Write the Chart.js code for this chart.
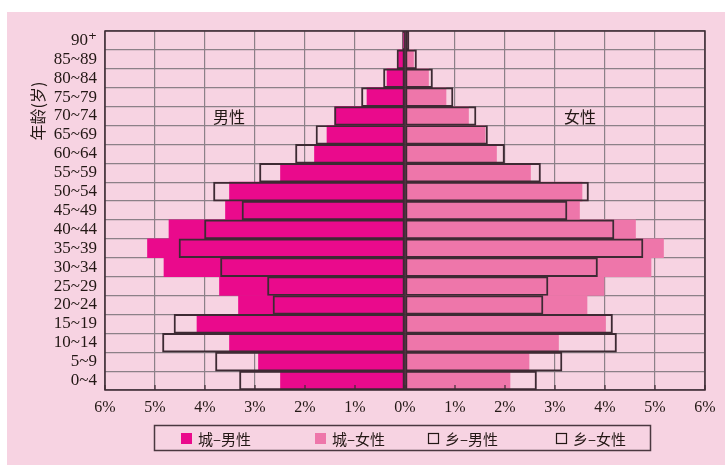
<!DOCTYPE html>
<html>
<head>
<meta charset="utf-8">
<script src="https://cdn.jsdelivr.net/npm/chart.js@4.4.0/dist/chart.umd.min.js"></script>
<style>
  html, body { margin: 0; padding: 0; background: #fff; }
  #chart { position: absolute; left: 0; top: 0; }
</style>
</head>
<body>
<canvas id="chart" width="725" height="465"></canvas>
<script>
// age groups, top to bottom
const ageGroups = ['90⁺', '85~89', '80~84', '75~79', '70~74', '65~69', '60~64', '55~59', '50~54',
  '45~49', '40~44', '35~39', '30~34', '25~29', '20~24', '15~19', '10~14', '5~9', '0~4'];

// percent of population
const urbanMale   = [0.03, 0.13, 0.36, 0.76, 1.40, 1.56, 1.81, 2.49, 3.51, 3.59, 4.72, 5.15, 4.82, 3.71, 3.33, 4.16, 3.51, 2.93, 2.49];
const urbanFemale = [0.06, 0.17, 0.47, 0.82, 1.27, 1.60, 1.83, 2.51, 3.54, 3.49, 4.61, 5.17, 4.92, 3.98, 3.64, 4.01, 3.07, 2.48, 2.10];
const ruralMale   = [0.05, 0.16, 0.43, 0.87, 1.41, 1.78, 2.19, 2.91, 3.83, 3.26, 4.01, 4.52, 3.69, 2.75, 2.64, 4.62, 4.85, 3.79, 3.31];
const ruralFemale = [0.08, 0.23, 0.55, 0.96, 1.42, 1.65, 1.99, 2.71, 3.67, 3.24, 4.18, 4.76, 3.85, 2.86, 2.76, 4.15, 4.23, 3.14, 2.63];

const xTicks = [-6, -5, -4, -3, -2, -1, 0, 1, 2, 3, 4, 5, 6];
const legendLabels = ['城–男性', '城–女性', '乡–男性', '乡–女性'];

const bgPink = '#f7d3e2';
const magenta = '#ea0a8c';
const pink = '#ee76aa';
const dark = '#3d2a33';
const gridColor = '#8c8088';
const cjkFont = '"Noto Sans CJK SC", sans-serif';
const serifFont = '"Liberation Serif", "DejaVu Serif", serif';

const decorations = {
    id: 'decorations',
    beforeDraw(chart) {
        const ctx = chart.ctx;
        ctx.save();
        ctx.fillStyle = '#fff';
        ctx.fillRect(0, 0, chart.width, chart.height);
        ctx.fillStyle = bgPink;
        ctx.fillRect(7, 12, chart.width - 7, chart.height - 12);
        ctx.restore();
    },
    afterDatasetsDraw(chart) {
        const ctx = chart.ctx;
        const area = chart.chartArea;
        const x0 = chart.scales.x.getPixelForValue(0);
        ctx.save();
        ctx.strokeStyle = dark;
        ctx.lineWidth = 1.5;
        ctx.beginPath();
        ctx.moveTo(x0, area.top);
        ctx.lineTo(x0, area.bottom);
        ctx.stroke();
        ctx.strokeRect(area.left, area.top, area.right - area.left, area.bottom - area.top);
        // small tick marks on the bottom edge
        ctx.lineWidth = 1.2;
        xTicks.forEach(v => {
            const x = chart.scales.x.getPixelForValue(v);
            ctx.beginPath();
            ctx.moveTo(x, area.bottom);
            ctx.lineTo(x, area.bottom - 5);
            ctx.stroke();
        });

        // side labels
        ctx.fillStyle = '#231815';
        ctx.font = '16px ' + cjkFont;
        ctx.textAlign = 'center';
        ctx.textBaseline = 'middle';
        ctx.fillText('男性', 229, 117);
        ctx.fillText('女性', 580, 117);

        // y axis title
        ctx.save();
        ctx.translate(38, 111);
        ctx.rotate(-Math.PI / 2);
        ctx.font = '16px ' + cjkFont;
        ctx.fillText('年龄(岁)', 0, 0);
        ctx.restore();

        // legend box
        ctx.lineWidth = 1.5;
        ctx.strokeStyle = '#4a3840';
        ctx.strokeRect(154.5, 425.5, 496, 25);
        const itemX = [181, 315, 428, 556];
        ctx.textAlign = 'left';
        ctx.font = '15px ' + cjkFont;
        chart.data.datasets.forEach((ds, i) => {
            const x = itemX[i];
            if (i < 2) {
                ctx.fillStyle = ds.backgroundColor;
                ctx.fillRect(x, 433, 11, 11);
            } else {
                ctx.strokeStyle = '#231815';
                ctx.lineWidth = 1.2;
                ctx.strokeRect(x + 0.5, 433.5, 10, 10);
            }
            ctx.fillStyle = '#231815';
            ctx.fillText(ds.label, x + 17, 439);
        });
        ctx.restore();
    }
};

new Chart(document.getElementById('chart'), {
    type: 'bar',
    data: {
        labels: ageGroups,
        datasets: [
            {
                label: legendLabels[0],
                data: urbanMale.map(v => -v),
                backgroundColor: magenta,
                borderWidth: 0,
                order: 2
            },
            {
                label: legendLabels[1],
                data: urbanFemale,
                backgroundColor: pink,
                borderWidth: 0,
                order: 2
            },
            {
                label: legendLabels[2],
                data: ruralMale.map(v => -v),
                backgroundColor: 'rgba(0,0,0,0)',
                borderColor: dark,
                borderWidth: 1.3,
                borderSkipped: false,
                order: 1
            },
            {
                label: legendLabels[3],
                data: ruralFemale,
                backgroundColor: 'rgba(0,0,0,0)',
                borderColor: dark,
                borderWidth: 1.3,
                borderSkipped: false,
                order: 1
            }
        ]
    },
    options: {
        indexAxis: 'y',
        responsive: false,
        animation: false,
        devicePixelRatio: 1,
        layout: { padding: { top: 31, right: 20, bottom: 40, left: 0 } },
        datasets: {
            bar: { categoryPercentage: 1, barPercentage: 1, grouped: false }
        },
        plugins: {
            legend: { display: false },
            tooltip: { enabled: false }
        },
        scales: {
            x: {
                min: -6,
                max: 6,
                afterBuildTicks: scale => { scale.ticks = xTicks.map(v => ({ value: v })); },
                afterFit: scale => { scale.height = 35; },
                grid: { color: gridColor, lineWidth: 1.2, drawTicks: false },
                border: { display: false },
                ticks: {
                    padding: 8,
                    color: '#231815',
                    font: { family: serifFont, size: 16 },
                    callback: v => Math.abs(v) + '%'
                }
            },
            y: {
                afterFit: scale => { scale.width = 105; },
                grid: { color: gridColor, lineWidth: 1.2, drawTicks: false },
                border: { display: false },
                ticks: {
                    autoSkip: false,
                    padding: 8,
                    color: '#231815',
                    font: { family: serifFont, size: 17 }
                }
            }
        }
    },
    plugins: [decorations]
});
</script>
</body>
</html>
